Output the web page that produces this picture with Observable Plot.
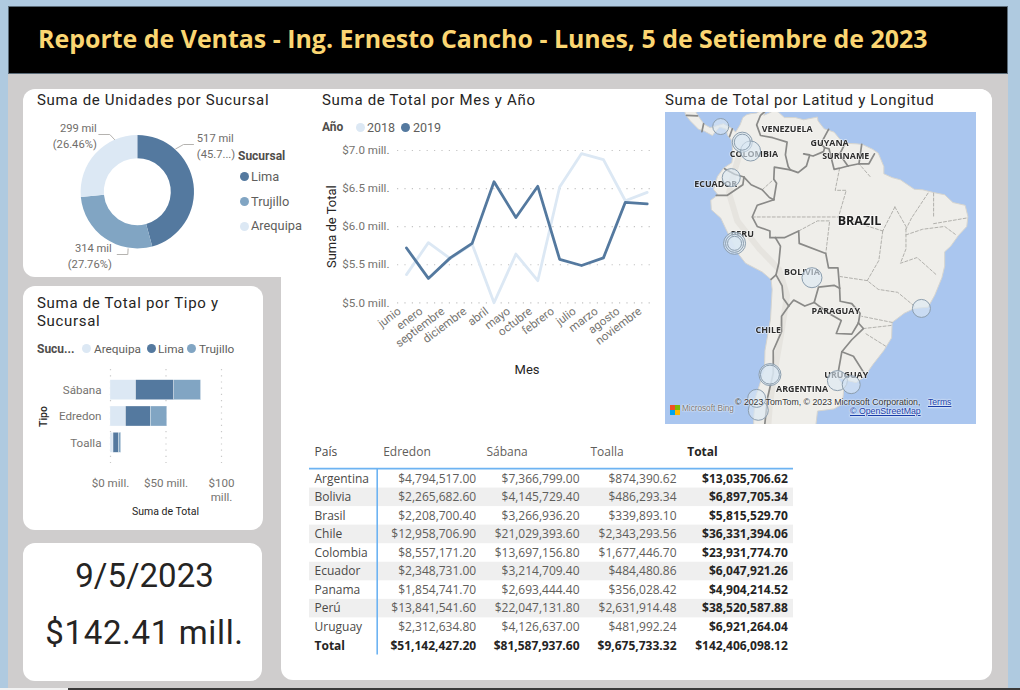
<!DOCTYPE html>
<html lang="es">
<head>
<meta charset="utf-8">
<title>Reporte de Ventas</title>
<script src="https://cdn.jsdelivr.net/npm/d3@7"></script>
<script src="https://cdn.jsdelivr.net/npm/@observablehq/plot@0.6"></script>
<style>
html,body{margin:0;padding:0;background:#fff}
#page{position:relative;width:1020px;height:690px;overflow:hidden;background:#afcae0;font-family:Roboto,sans-serif}
#page>*{position:absolute}
#page svg{background:transparent;overflow:hidden}
.ttl{font:400 15px Roboto,sans-serif;color:#252423;letter-spacing:.69px;line-height:18px;white-space:nowrap}
.lg{font:400 12.5px Roboto,sans-serif;color:#605e5c;white-space:nowrap;line-height:14px}
.lgs{font:400 11.8px Roboto,sans-serif;color:#605e5c;white-space:nowrap;line-height:14px}
.lgb{font:700 12px Roboto,sans-serif;color:#4f4d4b;white-space:nowrap;line-height:14px}
.dot{width:9px;height:9px;border-radius:50%}
.kpi{font:400 33px Roboto,sans-serif;color:#252423;text-align:center;white-space:nowrap}
.att{font:400 9px "Liberation Sans",sans-serif;color:#333;white-space:nowrap;text-shadow:0 0 2px #fff,0 0 2px #fff}
</style>
</head>
<body>
<div id="page"></div>
<script>
// ---------- datos ----------
const reportTitle = "Reporte de Ventas - Ing. Ernesto Cancho - Lunes, 5 de Setiembre de 2023";
const kpiDate = "9/5/2023";
const kpiTotal = "$142.41 mill.";

const donutSucursales = ["Lima", "Trujillo", "Arequipa"];
const donutUnidades = [517, 314, 299];
const donutValueLabels = ["517 mil", "314 mil", "299 mil"];
const donutPctLabels = ["(45.7...)", "(27.76%)", "(26.46%)"];

const meses = ["junio","enero","septiembre","diciembre","abril","mayo","octubre","febrero","julio","marzo","agosto","noviembre"];
const total2018 = [5.37,5.79,5.58,5.77,5.00,5.64,5.29,6.52,6.96,6.88,6.34,6.45];
const total2019 = [5.72,5.32,5.59,5.78,6.59,6.12,6.53,5.57,5.49,5.59,6.32,6.30];

const tipos = ["Sábana","Edredon","Toalla"];
const barArequipa = [23.1,14.0,2.75];
const barLima = [34.3,22.4,4.8];
const barTrujillo = [24.2,14.74,2.12];

const paises = ["Argentina","Bolivia","Brasil","Chile","Colombia","Ecuador","Panama","Perú","Uruguay","Total"];
const edredon = [4794517.00,2265682.60,2208700.40,12958706.90,8557171.20,2348731.00,1854741.70,13841541.60,2312634.80,51142427.20];
const sabana = [7366799.00,4145729.40,3266936.20,21029393.60,13697156.80,3214709.40,2693444.40,22047131.80,4126637.00,81587937.60];
const toalla = [874390.62,486293.34,339893.10,2343293.56,1677446.70,484480.86,356028.42,2631914.48,481992.24,9675733.32];
const totales = [13035706.62,6897705.34,5815529.70,36331394.06,23931774.70,6047921.26,4904214.52,38520587.88,6921264.04,142406098.12];

const bubbleLon = [-79.5,-75.6,-75.6,-74.1,-77.6,-77,-77,-77,-63,-43.2,-70.6,-70.6,-58.4,-55.9,-73,-72.7];
const bubbleLat = [9,6.2,6.2,4.6,-0.2,-12,-12,-12,-18,-23.2,-33.7,-33.7,-34.6,-35.2,-37.2,-38.9];
const bubbleTotal = [8,10,8,10,9,11,9,7,10,9,11,9.5,10,9,9,10];

const labelNames = ["VENEZUELA","GUYANA","SURINAME","COLOMBIA","ECUADOR","PERU","BOLIVIA","BRAZIL","PARAGUAY","CHILE","ARGENTINA","URUGUAY"];
const labelLon = [-67.5,-59.8,-56.9,-73.5,-80.4,-75.6,-64.8,-54.4,-58.7,-70.9,-64.8,-56.8];
const labelLat = [8.6,6.1,3.67,3.97,-1.32,-10.4,-17.04,-8.07,-23.6,-26.8,-35.8,-33.8];

const landRing = [[-84,11.6],[-83.6,10.9],[-82.5,9.4],[-81.4,8.8],[-80,9.2],[-79,9.5],[-77.4,8.6],[-76.8,8.0],[-76,9.3],[-75.5,10.6],[-74.8,11.1],[-74,11.3],[-73,11.4],[-72,12],[-71.3,12.4],[-71.7,11],[-70.3,11.6],[-70,12.1],[-69,11.5],[-68,10.6],[-66,10.6],[-64.5,10.2],[-62,10.7],[-61.9,10],[-60.8,8.6],[-59,8],[-58,6.8],[-57,6],[-55,5.9],[-53.9,5.8],[-52,4.9],[-51,4.2],[-50,1.8],[-50,0.5],[-48.5,-0.2],[-47,-0.6],[-44.5,-2.3],[-43,-2.4],[-41,-2.9],[-39,-3.3],[-37.5,-4.7],[-35.3,-5.2],[-34.8,-7.2],[-35,-9],[-36.5,-10.6],[-37.9,-12.5],[-39,-13.5],[-39,-16],[-39.5,-18],[-40.8,-21],[-42,-23],[-44.5,-23.2],[-46.3,-24],[-48.5,-25.5],[-48.6,-28],[-50,-30],[-52,-32.2],[-53.5,-34],[-55,-34.9],[-57,-34.5],[-58.4,-34],[-57.2,-35.5],[-57.5,-38],[-59,-38.7],[-62,-39],[-62.3,-41],[-65,-42.5],[-73.6,-42.5],[-73.5,-39.5],[-73.2,-37],[-71.6,-33],[-71.5,-30],[-70.5,-25],[-70.2,-20],[-70.4,-18.3],[-72,-17],[-75,-15.5],[-76.3,-13.9],[-77.2,-12],[-78.3,-10],[-79.5,-7.5],[-81.2,-6],[-81.3,-4.3],[-80,-3.3],[-80.8,-2.3],[-80.1,0],[-79,1.5],[-77.5,2.5],[-77.3,4],[-77.5,6.5],[-78.3,7.5],[-78.5,8.5],[-79.7,8.9],[-80.5,8],[-81,7.4],[-82.5,8.2],[-83.5,8.5],[-85,10],[-85.8,11],[-86,11.6]];

const borders = [
 [[-71.3,11.85],[-72.3,11],[-73,9.3],[-72.3,7.4],[-70.1,7],[-67.5,6.2],[-67.8,3.9],[-67.3,1.8],[-66.9,1.2]],
 [[-66.9,1.2],[-65.5,0.7],[-64,1.9],[-63.4,3.9],[-64.5,4.1],[-62.8,3.7],[-60.9,4.5],[-60.7,5.2]],
 [[-60.7,5.2],[-61.4,5.9],[-60,8.5]],
 [[-60.7,5.2],[-59.9,5],[-59.8,4.5],[-59,1.3],[-58,1.5],[-56.5,1.9]],
 [[-56.5,1.9],[-58,4],[-57,6]],
 [[-54,5.8],[-54.5,2.3]],
 [[-56.5,1.9],[-54.5,2.3],[-52.7,2.3],[-51.7,4.1]],
 [[-66.9,1.2],[-69.8,1.7],[-69.9,-0.5],[-69.4,-1.2],[-69.9,-4.2]],
 [[-69.9,-4.2],[-70.7,-3.8],[-72,-2.4],[-74,-1.5],[-75.3,-0.1]],
 [[-75.3,-0.1],[-77,0.4],[-78.8,1.4]],
 [[-75.3,-0.1],[-75.5,-1.5],[-78.3,-3.4],[-80.3,-3.4]],
 [[-69.9,-4.2],[-72.9,-5.2],[-73.8,-7.3],[-72.9,-9],[-70.6,-9.8],[-70.6,-11],[-69.6,-11]],
 [[-69.6,-11],[-68.7,-12.5],[-69,-15.5],[-69.5,-17.5]],
 [[-69.5,-17.5],[-70.4,-18.3]],
 [[-69.6,-11],[-68,-11],[-65.4,-9.8],[-65.3,-12],[-60.5,-13.8],[-60,-16.3],[-58.3,-16.3],[-58,-19.8]],
 [[-58,-19.8],[-59,-19.3],[-61.8,-19.6],[-62.6,-22.2]],
 [[-62.6,-22.2],[-64.3,-22.8],[-66.3,-21.8],[-67.2,-22.8]],
 [[-69.5,-17.5],[-68.4,-19.4],[-68.2,-21.5],[-67.2,-22.8]],
 [[-67.2,-22.8],[-68.5,-24.5],[-68.5,-27],[-70,-30],[-70,-33.5],[-71,-37],[-71.7,-42]],
 [[-62.6,-22.2],[-60,-24],[-57.7,-25.2],[-58.6,-27.3],[-55.8,-27.4],[-54.6,-25.6]],
 [[-58,-19.8],[-57.9,-22],[-55.8,-22.4],[-54.3,-24],[-54.6,-25.6]],
 [[-54.6,-25.6],[-53.7,-26.5],[-55.8,-28.3],[-57.6,-30.2]],
 [[-57.6,-30.2],[-58.4,-34]],
 [[-57.6,-30.2],[-55.5,-30.9],[-53.4,-33.7]],
 [[-77.4,8.6],[-77.9,7.2]],
 [[-82.6,9.5],[-82.9,8.1]],
 [[-85.7,11],[-83.7,10.9]]
];
const stateLines = [
 [[-58,1.5],[-58.8,-2.5],[-56.8,-2.5],[-58.2,-7.3]],
 [[-73.8,-7.3],[-58.2,-7.3],[-50.2,-9.8]],
 [[-65.4,-9.8],[-62,-8],[-59.8,-8],[-60.5,-13.8]],
 [[-50.2,-9.8],[-50.9,-15],[-53,-18.5],[-51,-20],[-47.5,-20.5],[-44.5,-22.8]],
 [[-48,-5.5],[-50.2,-9.8]],
 [[-48,-5.5],[-46,-9],[-46,-13],[-47,-15.5],[-44,-14.5],[-40.5,-17.5]],
 [[-42,-3],[-45,-7.5],[-46,-9.5]],
 [[-41,-3],[-41,-7.5]],
 [[-41,-8.5],[-35.1,-7.5]],
 [[-46,-10.5],[-43,-9.5],[-39,-9],[-36.8,-10.6]],
 [[-48.7,-26],[-53.7,-26.5]],
 [[-49.7,-29.3],[-53.5,-27.2]],
 [[-48.5,-25.5],[-54,-24.5]],
 [[-53,-18.5],[-57.9,-17.8]],
 [[-52.5,0],[-54.5,2.3]],
 [[-72,-2.4],[-69.9,-0.5]]
];
const andes = [[-75.5,6],[-77,1],[-78,-3],[-76.5,-8],[-72.5,-13],[-69,-16.5],[-67.5,-21],[-68.5,-27],[-69.7,-33],[-70.6,-38],[-71,-42]];

// ---------- estilo / maquetación ----------
const sucColors = {Lima:"#54799f", Trujillo:"#81a5c3", Arequipa:"#dce8f4"};
const sucScale = Plot.scale({color:{domain:Object.keys(sucColors), range:Object.values(sucColors)}});
const axisGray = "#75736f", darkText = "#252423";
const page = document.getElementById("page");
function place(el, x, y){ el.style.left=x+"px"; el.style.top=y+"px"; page.appendChild(el); return el; }
function box(x,y,w,h,bg,extra){ const d=document.createElement("div"); d.style.cssText=`width:${w}px;height:${h}px;background:${bg};${extra||""}`; return place(d,x,y); }
function txt(cls,t,x,y,extra){ const d=document.createElement("div"); d.className=cls; d.textContent=t; if(extra) d.style.cssText=extra; return place(d,x,y); }
function dot(c,cx,cy){ const d=document.createElement("div"); d.className="dot"; d.style.background=c; return place(d,cx-4.5,cy-4.5); }

// ---------- fondos ----------
box(8,6,1000,682,"#cfcdcd");
box(0,688,68,2,"#f2f2f2"); box(68,688,952,2,"#3a3a3a");
box(8,6,1000,68,"#000","box-sizing:border-box;border:1px solid #5b6b78");
box(23,89,969,188,"#fff","border-radius:12px 12px 0 12px");
box(281,89,711,591,"#fff","border-radius:12px");
box(23,286,240,244,"#fff","border-radius:12px");
box(23,543,239,138,"#fff","border-radius:12px");

txt("",reportTitle,38,22,'font:700 24.93px "Open Sans",sans-serif;color:#fbd672;white-space:nowrap;line-height:32px');

// ---------- Dona ----------
txt("ttl","Suma de Unidades por Sucursal",37,91);
const donutW=258, donutH=180, donutCx=137.3-23, donutCy=191.7-97;
const pieArcs = d3.pie().sort(null).value(d=>d)(donutUnidades);
const leaderAt=[.25,.25,.75];
const leaderPts=[[[45.7,-47.7],[55.7,-47.7]],[[-10,62.3],[-20.6,62.3]],[[-28,-57.7],[-39,-57.7]]];
const labelPos=[[59,-47,"start"],[-26,63,"end"],[-41,-57,"end"]];
const leaders = pieArcs.flatMap((a,i)=>{
  const t=a.startAngle+(a.endAngle-a.startAngle)*leaderAt[i];
  const start=[57.5*Math.sin(t),-57.5*Math.cos(t)];
  return [start,...leaderPts[i]].map(p=>({s:donutSucursales[i],x:p[0],y:p[1]}));
});
const donutSvg = Plot.plot({
  width:donutW,height:donutH,margin:0,
  x:{domain:[-donutCx,donutW-donutCx],axis:null},
  y:{domain:[donutH-donutCy,-donutCy],axis:null},
  marks:[
    (index,scales)=>{
      const g=d3.create("svg:g").attr("transform",`translate(${scales.x(0)},${scales.y(0)})`);
      const arc=d3.arc().innerRadius(33.5).outerRadius(56.7);
      g.selectAll("path").data(pieArcs).join("path").attr("d",arc)
        .attr("fill",(d,i)=>sucScale.apply(donutSucursales[i]));
      return g.node();
    },
    Plot.line(leaders,{x:"x",y:"y",z:"s",stroke:"#b5b3b0",strokeWidth:1,curve:"linear"}),
    ...donutSucursales.map((s,i)=>Plot.text([donutValueLabels[i]+"\n"+donutPctLabels[i]],{
      x:()=>labelPos[i][0],y:()=>labelPos[i][1],text:d=>d,textAnchor:labelPos[i][2],
      fill:"#6f6d6a",fontSize:11.2,lineHeight:1.35,fontFamily:"Roboto, sans-serif"}))
  ]
});
place(donutSvg,23,97);
txt("lgb","Sucursal",238,149);
donutSucursales.forEach((s,i)=>{
  const y=[176.5,201.5,226][i];
  dot(sucColors[s],244,y); txt("lg",s,251,y-7,"font:400 12.8px Roboto,sans-serif;color:#605e5c;white-space:nowrap;line-height:14px");
});

// ---------- Líneas ----------
txt("ttl","Suma de Total por Mes y Año",322,91);
txt("lgb","Año",322,120);
dot(sucColors.Arequipa,360,127.5); txt("lg","2018",367,120.5);
dot(sucColors.Lima,405.7,127.5); txt("lg","2019",413,120.5);
const lineRows = meses.flatMap((m,i)=>[
  {mes:m,anio:"2018",v:total2018[i]*1e6},{mes:m,anio:"2019",v:total2019[i]*1e6}]);
const lineSvg = Plot.plot({
  width:345,height:245,marginTop:10,marginBottom:82.7,marginLeft:87,marginRight:5,
  style:{fontFamily:"Roboto, sans-serif",fontSize:"11.6px",color:axisGray},
  x:{type:"point",domain:meses,range:[96,336.7],padding:0,round:false,label:null},
  y:{domain:[5e6,7e6],range:[162.3,10],label:null},
  color:{domain:["2018","2019"],range:[sucColors.Arequipa,sucColors.Lima]},
  marks:[
    Plot.ruleY([5e6,5.5e6,6e6,6.5e6,7e6],{stroke:"#c4c4c4",strokeDasharray:"1.2,6.2",strokeWidth:1.2}),
    Plot.axisY({ticks:[5e6,5.5e6,6e6,6.5e6,7e6],tickSize:0,tickPadding:8,label:null,tickFormat:d=>`$${(d/1e6).toFixed(1)} mill.`,fill:axisGray}),
    Plot.axisX({tickSize:0,tickPadding:7,dx:-7,tickRotate:-37,label:null,fill:axisGray}),
    Plot.line(lineRows,{x:"mes",y:"v",z:"anio",stroke:"anio",strokeWidth:2.8,curve:"linear"}),
    Plot.text(["Suma de Total"],{frameAnchor:"left",textAnchor:"middle",rotate:-90,dx:-66,fill:darkText,fontSize:13,fontFamily:"Roboto, sans-serif"}),
    Plot.text(["Mes"],{frameAnchor:"bottom",dx:3,dy:71,fill:darkText,fontSize:13,fontFamily:"Roboto, sans-serif"})
  ]
});
place(lineSvg,310,140);

// ---------- Barras ----------
txt("ttl","Suma de Total por Tipo y",37,294); txt("ttl","Sucursal",37,312);
txt("lgb","Sucu...",37,342);
[["Arequipa",86.7,94],["Lima",151,158],["Trujillo",191.7,199]].forEach(([s,cx,tx])=>{dot(sucColors[s],cx,348.5);txt("lgs",s,tx,341.5);});
const barRows = [["Arequipa",barArequipa],["Lima",barLima],["Trujillo",barTrujillo]]
  .flatMap(([s,arr])=>tipos.map((t,i)=>({suc:s,tipo:t,v:arr[i]*1e6})));
const barSvg = Plot.plot({
  width:240,height:165,marginTop:9,marginBottom:62,marginLeft:87,marginRight:40,
  style:{fontFamily:"Roboto, sans-serif",fontSize:"11.6px",color:axisGray},
  x:{domain:[0,100e6],range:[87,198],label:null},
  y:{domain:tipos,range:[13.4,98.6],padding:.24,round:false,label:null},
  color:{domain:Object.keys(sucColors),range:Object.values(sucColors)},
  marks:[
    Plot.ruleX([0,50e6,100e6],{stroke:"#c9c9c9",strokeDasharray:"1.2,5",strokeWidth:1.2}),
    Plot.barX(barRows,{x:"v",y:"tipo",fill:"suc",stroke:"#fff",strokeOpacity:.6,strokeWidth:.5}),
    Plot.axisY({tickSize:0,tickPadding:9,label:null,fill:axisGray}),
    Plot.axisX({ticks:[0,50e6,100e6],tickSize:0,tickPadding:13,label:null,fill:axisGray,lineHeight:1.25,
      tickFormat:d=>d>=1e8?"$100\nmill.":`$${d/1e6} mill.`}),
    Plot.text(["Tipo"],{frameAnchor:"left",textAnchor:"middle",rotate:-90,dx:-67,fill:darkText,fontSize:10.5,fontWeight:500,fontFamily:"Roboto, sans-serif"}),
    Plot.text(["Suma de Total"],{frameAnchor:"bottom",dx:-1.5,dy:51,fill:darkText,fontSize:10.5,fontFamily:"Roboto, sans-serif"})
  ]
});
place(barSvg,23,360);

// ---------- KPI ----------
txt("kpi",kpiDate,23,555,"width:243px;line-height:42px");
txt("kpi",kpiTotal,23,612,"width:243px;line-height:42px;letter-spacing:.65px");

// ---------- Mapa ----------
txt("ttl","Suma de Total por Latitud y Longitud",665,91);
const bubbles = bubbleLon.map((lon,i)=>({lon,lat:bubbleLat[i],total:bubbleTotal[i]}));
const mapLabels = labelNames.map((name,i)=>({name,lon:labelLon[i],lat:labelLat[i]}));
const mapSvg = Plot.plot({
  width:311,height:312,margin:0,
  projection:d3.geoMercator().scale(316.8).translate([494.8,64]),
  r:{type:"linear",domain:[0,11],range:[0,11]},
  marks:[
    Plot.sphere({fill:"#aac6ef"}),
    Plot.geo([{type:"Polygon",coordinates:[landRing.concat([landRing[0]])]}],{fill:"#efeeea",stroke:"#d6d5d0",strokeWidth:1}),
    Plot.geo([{type:"LineString",coordinates:andes}],{stroke:"#e3e1dc",strokeWidth:6,strokeOpacity:.8}),
    Plot.geo(stateLines.map(c=>({type:"LineString",coordinates:c})),{stroke:"#aaa9a5",strokeWidth:.9,strokeDasharray:"3,2"}),
    Plot.geo(borders.map(c=>({type:"LineString",coordinates:c})),{stroke:"#8a8a88",strokeWidth:1.7}),
    Plot.text(mapLabels.filter(d=>d.name!=="BRAZIL"),{x:"lon",y:"lat",text:"name",fontSize:8.9,fontWeight:700,fill:"#2e2e2e",stroke:"#fff",strokeWidth:1.5,strokeOpacity:.55,fontFamily:"Open Sans, sans-serif"}),
    Plot.text(mapLabels.filter(d=>d.name==="BRAZIL"),{x:"lon",y:"lat",text:"name",fontSize:12.5,fontWeight:700,letterSpacing:"0.5px",fill:"#1e1e1e",stroke:"#fff",strokeWidth:2,strokeOpacity:.55,fontFamily:"Open Sans, sans-serif"}),
    Plot.dot(bubbles,{x:"lon",y:"lat",r:"total",fill:sucColors.Arequipa,fillOpacity:.62,stroke:"#8c9eae",strokeWidth:1})
  ]
});
mapSvg.style.filter="blur(.35px)";
place(mapSvg,665,112);
[["#f25022",670,405],["#7fba00",675,405],["#00a4ef",670,410],["#ffb900",675,410]].forEach(([c,x,y])=>box(x,y,4.5,4.5,c));
txt("att","Microsoft Bing",682,404,'color:#777;font-size:8.2px');
txt("att","© 2023 TomTom, © 2023 Microsoft Corporation,",735,397,'font-size:8.75px');
txt("att","Terms",928,397,'font-size:8.6px;color:#1a3ea8;text-decoration:underline');
txt("att","© OpenStreetMap",850,406,'font-size:8.75px;color:#1a3ea8;text-decoration:underline');

// ---------- Tabla ----------
const tableX=300, tableY=440, tableW=500, tableH=220;
const rowTop=469-tableY, rowStep=18.55;
const colRight=[475.7,579,676,787.3].map(v=>v-tableX);
const headerLeft=[382.7,486,590,686.7].map(v=>v-tableX);
const headers=["Edredon","Sábana","Toalla","Total"];
const columns=[edredon,sabana,toalla,totales];
const money=d3.format("$,.2f");
const rows=paises.map((p,i)=>({p,i}));
const bodyRows=rows.filter(d=>d.i<9), footRows=rows.filter(d=>d.i===9);
const tFont={fontFamily:"Open Sans, sans-serif",fontSize:12};
const rowY=d=>rowTop+(d.i+.5)*rowStep;
const tableSvg=Plot.plot({
  width:tableW,height:tableH,margin:0,
  x:{domain:[0,tableW],range:[0,tableW],axis:null},
  y:{domain:[0,tableH],range:[0,tableH],axis:null},
  marks:[
    Plot.rect(rows.filter(d=>d.i%2===1&&d.i<9),{x1:()=>9,x2:()=>493,y1:d=>rowTop+d.i*rowStep,y2:d=>rowTop+(d.i+1)*rowStep,fill:"#efefef"}),
    Plot.ruleY([rowTop-.9],{x1:9,x2:493,stroke:"#6db3f2",strokeWidth:1.6}),
    Plot.ruleX([76.7],{y1:rowTop-.9,y2:rowTop+rowStep*10,stroke:"#6db3f2",strokeWidth:1.6}),
    Plot.text(bodyRows,{x:()=>14,y:rowY,text:"p",textAnchor:"start",fill:"#4a4947",...tFont}),
    Plot.text(footRows,{x:()=>14,y:rowY,text:"p",textAnchor:"start",fill:darkText,fontWeight:700,...tFont}),
    ...columns.flatMap((col,c)=>[
      Plot.text(bodyRows,{x:()=>colRight[c],y:rowY,text:d=>money(col[d.i]),textAnchor:"end",
        fill:c===3?darkText:"#5f5e5b",fontWeight:c===3?700:400,...tFont}),
      Plot.text(footRows,{x:()=>colRight[c],y:rowY,text:d=>money(col[d.i]),textAnchor:"end",
        fill:darkText,fontWeight:700,...tFont})
    ]),
    Plot.text(["País"],{x:()=>14,y:()=>11.7,text:d=>d,textAnchor:"start",fill:"#4a4947",...tFont}),
    ...headers.map((h,c)=>Plot.text([h],{x:()=>headerLeft[c],y:()=>11.7,text:d=>d,textAnchor:"start",fill:c===3?darkText:"#5f5e5b",fontWeight:c===3?700:400,...tFont}))
  ]
});
place(tableSvg,tableX,tableY);
</script>
</body>
</html>
